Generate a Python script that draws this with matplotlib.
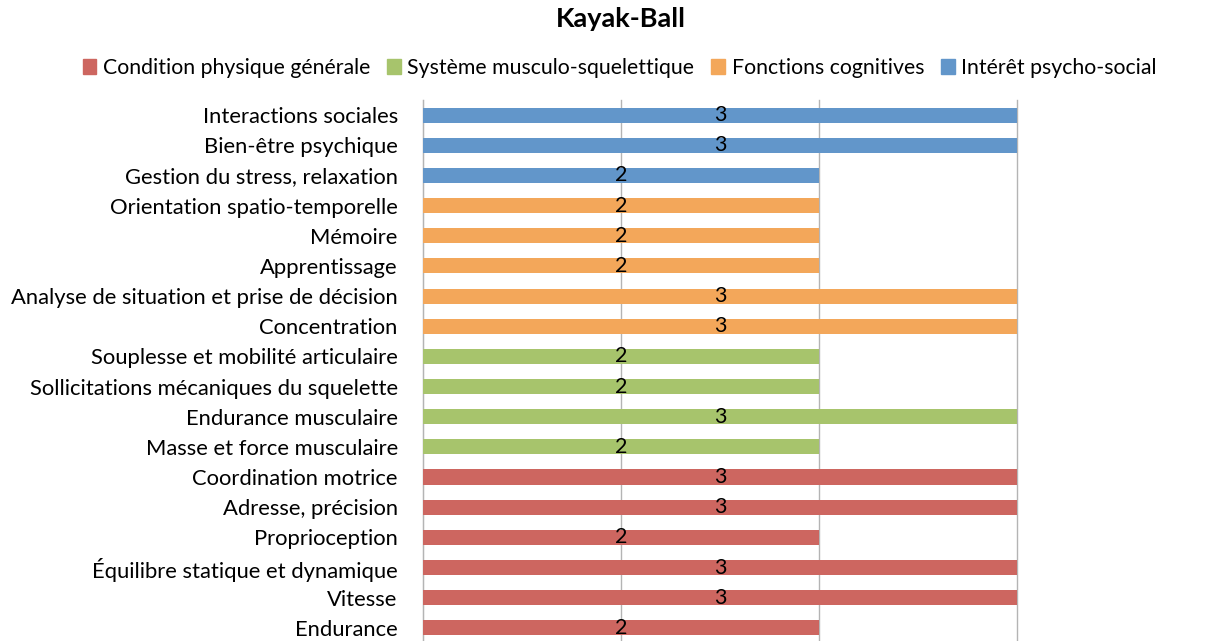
import matplotlib.pyplot as plt
from matplotlib.patches import Patch

plt.rcParams['font.family'] = ['Lato', 'DejaVu Sans']

# Data (bottom to top, as drawn)
categories = [
    'Endurance', 'Vitesse', 'Équilibre statique et dynamique', 'Proprioception',
    'Adresse, précision', 'Coordination motrice',
    'Masse et force musculaire', 'Endurance musculaire',
    'Sollicitations mécaniques du squelette', 'Souplesse et mobilité articulaire',
    'Concentration', 'Analyse de situation et prise de décision', 'Apprentissage',
    'Mémoire', 'Orientation spatio-temporelle',
    'Gestion du stress, relaxation', 'Bien-être psychique', 'Interactions sociales',
]
values = [2, 3, 3, 2, 3, 3, 2, 3, 2, 2, 3, 3, 2, 2, 2, 2, 3, 3]
groups = [0, 0, 0, 0, 0, 0, 1, 1, 1, 1, 2, 2, 2, 2, 2, 3, 3, 3]
series = ['Condition physique générale', 'Système musculo-squelettique',
          'Fonctions cognitives', 'Intérêt psycho-social']
colors = ['#CD6660', '#A7C46C', '#F3A75A', '#6296CA']

fig = plt.figure(figsize=(12.08, 6.41), dpi=100)
ax = fig.add_axes([0.350, -0.003, 0.492, 0.847])

# one barh call per series
for s in range(len(series)):
    ys = [i for i, g in enumerate(groups) if g == s]
    xs = [values[i] for i in ys]
    bars = ax.barh(ys, xs, height=0.5, color=colors[s], zorder=3)
    ax.bar_label(bars, labels=[str(v) for v in xs], label_type='center',
                 fontsize=15.5, color='black', zorder=4)

ax.set_xlim(0, 3)
ax.set_ylim(-0.5, len(categories) - 0.5)
ax.set_yticks(range(len(categories)))
ax.set_yticklabels(categories, fontsize=15.8)
ax.set_xticks([0, 1, 2, 3])
ax.tick_params(axis='y', length=0, pad=18)
ax.tick_params(axis='x', length=0, labelbottom=False)
ax.grid(axis='x', color='#b4b4b4', linewidth=1, zorder=0)
for gl in ax.get_xgridlines():
    gl.set_clip_on(False)
for side in ['top', 'right', 'bottom']:
    ax.spines[side].set_visible(False)
ax.spines['left'].set_color('#b4b4b4')

fig.text(0.514, 0.970, 'Kayak-Ball', ha='center', va='center',
         fontsize=19.5, fontweight='bold')

handles = [Patch(color=c) for c in colors]
fig.legend(handles, series, loc='center', bbox_to_anchor=(0.513, 0.894),
           ncol=4, frameon=False, fontsize=15.3, handlelength=0.65,
           handleheight=0.65, handletextpad=0.3, columnspacing=0.8)

fig.savefig('out.png', dpi=100)
